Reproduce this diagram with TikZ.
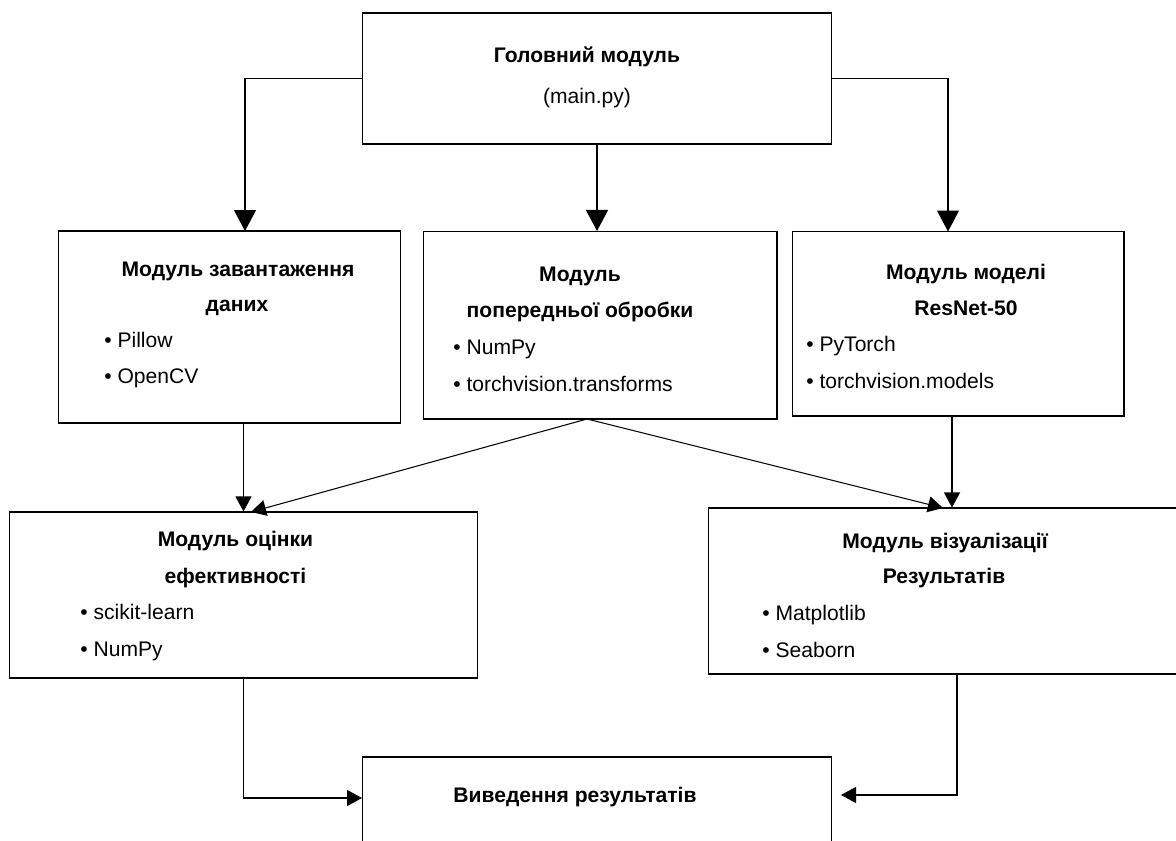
\documentclass[tikz,border=0pt]{standalone}
\usepackage{fontspec}
\setmainfont{Liberation Sans}
\usetikzlibrary{arrows.meta}

\tikzset{
  box/.style={draw, line width=0.6pt, inner sep=0pt},
  ttl/.style={font=\fontsize{12}{14}\selectfont\bfseries, anchor=mid, inner sep=0pt},
  sub/.style={font=\fontsize{12}{14}\selectfont, anchor=mid, inner sep=0pt},
  itm/.style={font=\fontsize{12}{14}\selectfont, anchor=mid west, inner sep=0pt},
  bigarr/.style={-{Triangle[width=0.44cm,length=0.42cm]}, line width=0.6pt},
  arr/.style={-{Triangle[width=0.32cm,length=0.3cm]}, line width=0.6pt},
}

\begin{document}
\begin{tikzpicture}[x=0.02cm,y=-0.02cm]

\useasboundingbox (0,0) rectangle (1176,841);
\clip (0,0) rectangle (1176,841);

% main
\node[box, minimum width=9.4cm, minimum height=2.62cm] (main) at (597,78.5) {};
\node[ttl] (mainttl) at (587,58) {Головний модуль};
\node[sub] (mainsub) at (587,99) {(main.py)};

% loading
\node[box, minimum width=6.86cm, minimum height=3.84cm] (load) at (229.5,327) {};
\node[ttl] (loadttl) at (238,272) {Модуль завантаження};
\node[ttl] (loadttl2) at (237,307) {даних};
\node[itm] (loada) at (104,343) {• Pillow};
\node[itm] (loadb) at (104,379) {• OpenCV};

% preprocessing
\node[box, minimum width=7.08cm, minimum height=3.75cm] (prep) at (600,325.25) {};
\node[ttl] (prepttl) at (580,277) {Модуль};
\node[ttl] (prepttl2) at (580,313) {попередньої обробки};
\node[itm] (prepa) at (453,350) {• NumPy};
\node[itm] (prepb) at (453,387) {• torchvision.transforms};

% model
\node[box, minimum width=6.64cm, minimum height=3.69cm] (model) at (958,323.75) {};
\node[ttl] (modelttl) at (966,275) {Модуль моделі};
\node[ttl] (modelttl2) at (966,311) {ResNet-50};
\node[itm] (modela) at (806,347) {• PyTorch};
\node[itm] (modelb) at (806,384) {• torchvision.models};

% evaluation
\node[box, minimum width=9.38cm, minimum height=3.32cm] (eval) at (243.5,595) {};
\node[ttl] (evalttl) at (235.5,542) {Модуль оцінки};
\node[ttl] (evalttl2) at (235.5,579) {ефективності};
\node[itm] (evala) at (80,615) {• scikit-learn};
\node[itm] (evalb) at (80,652) {• NumPy};

% visualisation
\node[box, minimum width=9.48cm, minimum height=3.32cm] (vis) at (945,591) {};
\node[ttl] (visttl) at (945,544) {Модуль візуалізації};
\node[ttl] (visttl2) at (944,579) {Результатів};
\node[itm] (visa) at (762,616) {• Matplotlib};
\node[itm] (visb) at (762,653) {• Seaborn};

% output
\node[box, minimum width=9.4cm, minimum height=2.86cm] (output) at (597,828.5) {};
\node[ttl] (outttl) at (575,798) {Виведення результатів};

% ends of the connectors
\coordinate (loadin) at (245,231);
\coordinate (modelin) at (948,231.5);
\coordinate (prepout) at (587,419);
\coordinate (evalin) at (251,512);
\coordinate (visin) at (943,508);
\coordinate (modelout) at (952,416);
\coordinate (outin) at (362,798);
\coordinate (visout) at (957,674);
\coordinate (outrt) at (841,795);

\draw[bigarr] (main.west) -| (loadin);
\draw[bigarr] (main.south) -- (main.south |- prep.north);
\draw[bigarr] (main.east) -| (modelin);

\draw[arr] (eval.north |- load.south) -- (eval.north);
\draw[arr] (prepout) -- (evalin);
\draw[arr] (prepout) -- (visin);
\draw[arr] (modelout) -- (modelout |- vis.north);

\draw[arr] (eval.south) |- (outin);
\draw[arr] (visout) |- (outrt);

\end{tikzpicture}
\end{document}
